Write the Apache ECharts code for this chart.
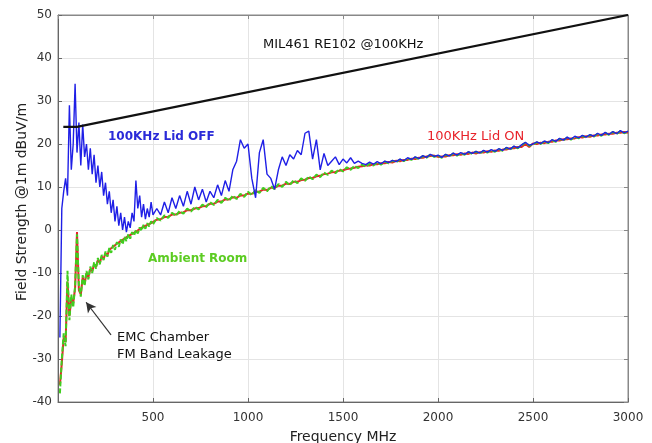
<!DOCTYPE html>
<html>
<head>
<meta charset="utf-8">
<script src="https://cdn.jsdelivr.net/npm/echarts@6/dist/echarts.min.js"></script>
<style>
html,body{margin:0;padding:0;background:#fff;}
#chart{width:652px;height:443px;}
</style>
</head>
<body>
<div id="chart"></div>
<script>
// Sample frequencies (MHz)
const freq = [
  10,20,30,40,50,60,70,80,90,100,110,120,130,140,150,160,170,180,190,200,
  210,220,230,240,250,260,270,280,290,300,310,320,330,340,350,360,370,380,390,400,
  410,420,430,440,450,460,470,480,490,500,
  520,540,560,580,600,620,640,660,680,700,720,740,760,780,800,820,840,860,880,900,
  920,940,960,980,1000,1020,1040,1060,1080,1100,1120,1140,1160,1180,1200,1220,1240,1260,1280,1300,
  1320,1340,1360,1380,1400,1420,1440,1460,1480,1500,1520,1540,1560,1580,1600,1620,1640,1660,1680,1700,
  1720,1740,1760,1780,1800,1820,1840,1860,1880,1900,1920,1940,1960,1980,2000,2020,2040,2060,2080,2100,
  2120,2140,2160,2180,2200,2220,2240,2260,2280,2300,2320,2340,2360,2380,2400,2420,2440,2460,2480,2500,
  2520,2540,2560,2580,2600,2620,2640,2660,2680,2700,2720,2740,2760,2780,2800,2820,2840,2860,2880,2900,
  2920,2940,2960,2980,3000
];

// Ambient Room (green)
const ambient = [
  -38,-30,-24,-27,-9.5,-21,-15,-18,-13,-1,-13,-15.5,-10.5,-13,-9.5,-11.5,-8.5,-10,-7.5,-9,
  -6.5,-8,-5.8,-7,-5,-6.2,-4.2,-5.3,-3.5,-4.6,-2.8,-3.9,-2.2,-3.3,-1.6,-2.6,-1,-2,-0.5,-1.3,
  0,-0.8,0.6,-0.2,1.2,0.3,1.6,0.8,2,1.3,
  2.8,2.2,3.4,2.8,4.0,3.3,4.4,3.8,5.0,4.3,5.4,4.8,5.9,5.3,6.5,5.8,7.0,6.3,7.5,6.8,
  8.0,7.2,8.4,7.7,8.9,8.1,9.3,8.6,9.8,9.0,10.2,9.5,10.7,10.0,11.2,10.4,11.6,10.9,12.0,11.4,
  12.5,11.8,12.9,12.3,13.4,12.8,13.8,13.2,14.2,13.6,14.6,14.0,14.9,14.4,15.2,14.7,15.4,15.0,15.7,15.2,
  15.9,15.5,16.1,15.8,16.4,16.0,16.7,16.3,16.9,16.5,17.2,16.8,17.6,17.0,17.3,16.8,17.5,17.1,17.8,17.3,
  17.9,17.5,18.1,17.7,18.2,17.8,18.4,18.0,18.6,18.2,18.8,18.4,19.1,18.7,19.4,19.0,19.7,20.3,19.6,19.9,
  20.4,20.0,20.6,20.2,20.9,20.5,21.2,20.8,21.5,21.0,21.7,21.3,21.9,21.5,22.1,21.7,22.4,21.9,22.6,22.1,
  22.8,22.3,23.0,22.5,22.9
];

// 100KHz Lid ON (red)
const lidOn = [
  -36,-31,-25,-26,-12,-20,-16,-17,-13.5,-0.5,-14,-15,-11,-12.5,-10,-11,-9,-9.6,-8,-8.6,
  -7,-7.6,-6.2,-6.7,-5.4,-5.9,-4.6,-5,-3.9,-4.3,-3.2,-3.6,-2.6,-3,-2,-2.3,-1.4,-1.7,-0.9,-1,
  -0.4,-0.5,0.2,0.1,0.8,0.6,1.2,1.1,1.6,1.6,
  2.4,2.5,3.0,3.1,3.6,3.6,4.0,4.1,4.6,4.6,5.0,5.1,5.5,5.6,6.1,6.1,6.6,6.6,7.1,7.1,
  7.6,7.5,8.0,8.0,8.5,8.4,8.9,8.9,9.4,9.3,9.8,9.8,10.3,10.3,10.8,10.7,11.2,11.2,11.6,11.7,
  12.1,12.1,12.5,12.6,13.0,13.1,13.4,13.5,13.8,13.9,14.2,14.3,14.5,14.7,14.8,15.0,15.0,15.3,15.3,15.5,
  15.5,15.8,15.7,16.1,16.0,16.3,16.3,16.6,16.5,16.8,16.8,17.1,17.2,17.3,17.0,17.1,17.1,17.4,17.4,17.6,
  17.5,17.8,17.7,18.0,17.8,18.1,18.0,18.3,18.2,18.5,18.4,18.7,18.7,19.0,19.0,19.3,19.3,20.0,19.3,20.1,
  20.0,20.3,20.2,20.5,20.5,20.8,20.8,21.1,21.1,21.3,21.3,21.6,21.5,21.8,21.7,22.0,22.0,22.2,22.2,22.4,
  22.4,22.6,22.6,22.8,22.6
];

// 100KHz Lid OFF (blue)
const lidOff = [
  -25,5,9,12,8,29,14,20,34,18,25,15,24.5,17,20,14,19,13,17.5,11,
  15,10,13.5,8,11,6,9,4,7,2,5.5,1,4,0,3,-0.5,2,0.5,4,2,
  11.5,5,8,3,6,2.5,5,3,6.5,3.5,
  5,3.5,6.5,4,7.5,5,8,5.5,9,6,10,7,9.5,6.5,9,7.5,10.5,8,11.5,9,
  14,16,21,19,20,12,7.5,18,21,13,12,9.5,14,17,15,17.5,16.5,18.5,17.5,22.5,
  23,16.5,21,14,17.8,15,16,17,15.2,16.5,15.6,16.8,15.5,16,15.5,15.2,15.8,15.3,15.9,15.4,
  16.0,15.7,16.2,15.9,16.5,16.1,16.8,16.4,17.0,16.6,17.3,16.9,17.6,17.1,17.4,16.9,17.6,17.2,17.9,17.4,
  18.0,17.6,18.2,17.8,18.3,17.9,18.5,18.1,18.7,18.3,18.9,18.5,19.2,18.8,19.5,19.1,19.8,20.4,19.7,20.0,
  20.5,20.1,20.7,20.3,21.0,20.6,21.3,20.9,21.6,21.1,21.8,21.4,22.0,21.6,22.2,21.8,22.5,22.0,22.7,22.2,
  22.9,22.4,23.1,22.6,23.0
];

// MIL461 RE102 limit line
const limitFreq = [28, 100, 3000];
const limitVal = [24, 24, 50];

// Axis ticks
const xTicks = [500, 1000, 1500, 2000, 2500, 3000];
const yTicks = [-40, -30, -20, -10, 0, 10, 20, 30, 40, 50];

const pairs = (xs, ys) => xs.map((x, i) => [x, ys[i]]);

const FONT = '"DejaVu Sans", Arial, sans-serif';
const chart = echarts.init(document.getElementById('chart'));

chart.setOption({
  animation: false,
  backgroundColor: '#fff',
  grid: { left: 58, right: 24, top: 15, bottom: 41, show: true, borderColor: '#888', borderWidth: 1 },
  xAxis: [{
    type: 'value', min: 0, max: 3000, interval: 500,
    axisLine: { show: true, onZero: false, lineStyle: { color: '#666' } },
    axisTick: { show: true, inside: true, length: 4, lineStyle: { color: '#666' } },
    axisLabel: { showMinLabel: false, fontFamily: FONT, fontSize: 12, color: '#333', margin: 10,
      formatter: v => xTicks.includes(v) ? String(v) : '' },
    splitLine: { show: true, lineStyle: { color: '#e4e4e4' } }
  }, {
    type: 'value', min: 0, max: 3000, interval: 500, position: 'top',
    axisLine: { show: true, onZero: false, lineStyle: { color: '#888' } },
    axisTick: { show: true, inside: true, length: 4, lineStyle: { color: '#888' } },
    axisLabel: { show: false }, splitLine: { show: false }
  }],
  yAxis: [{
    type: 'value', min: -40, max: 50, interval: 10,
    axisLine: { show: true, onZero: false, lineStyle: { color: '#666' } },
    axisTick: { show: true, inside: true, length: 4, lineStyle: { color: '#666' } },
    axisLabel: { fontFamily: FONT, fontSize: 12, color: '#333', margin: 6,
      formatter: v => yTicks.includes(v) ? String(v) : '' },
    splitLine: { show: true, lineStyle: { color: '#e4e4e4' } }
  }, {
    type: 'value', min: -40, max: 50, interval: 10, position: 'right',
    axisLine: { show: true, onZero: false, lineStyle: { color: '#888' } },
    axisTick: { show: true, inside: true, length: 4, lineStyle: { color: '#888' } },
    axisLabel: { show: false }, splitLine: { show: false }
  }],
  series: [
    {
      name: '100KHz Lid ON', type: 'line', data: pairs(freq, lidOn), showSymbol: false,
      lineStyle: { color: '#e8232a', width: 2 }, z: 2
    },
    {
      name: 'Ambient Room', type: 'line', data: pairs(freq, ambient), showSymbol: false,
      lineStyle: { color: '#3fce1f', width: 2, type: [5, 2] }, z: 3
    },
    {
      name: '100KHz Lid OFF', type: 'line', data: pairs(freq, lidOff), showSymbol: false,
      lineStyle: { color: '#1f1fe6', width: 1.4 }, z: 4
    },
    {
      name: 'MIL461 RE102 @100KHz', type: 'line', data: pairs(limitFreq, limitVal), showSymbol: false,
      lineStyle: { color: '#111', width: 2.2 }, z: 5,
      markLine: {
        silent: true, symbol: ['none', 'arrow'], symbolSize: [8, 10],
        lineStyle: { color: '#333', width: 1.2, type: 'solid' },
        label: { show: false },
        data: [[{ coord: [279, -24.4] }, { coord: [148, -16.8] }]]
      }
    }
  ],
  graphic: [
    { type: 'text', z: 100, left: 263, top: 38, style: { text: 'MIL461 RE102 @100KHz', fontFamily: FONT, fontSize: 13, fill: '#111' } },
    { type: 'text', z: 100, left: 108, top: 131, style: { text: '100KHz Lid OFF', fontFamily: FONT, fontSize: 12, fontWeight: 'bold', fill: '#2a2ad8' } },
    { type: 'text', z: 100, left: 427, top: 130, style: { text: '100KHz Lid ON', fontFamily: FONT, fontSize: 13, fill: '#e8232a' } },
    { type: 'text', z: 100, left: 148, top: 253, style: { text: 'Ambient Room', fontFamily: FONT, fontSize: 12, fontWeight: 'bold', fill: '#5ccc22' } },
    { type: 'text', z: 100, left: 117, top: 331, style: { text: 'EMC Chamber', fontFamily: FONT, fontSize: 13, fill: '#111' } },
    { type: 'text', z: 100, left: 117, top: 348, style: { text: 'FM Band Leakage', fontFamily: FONT, fontSize: 13, fill: '#111' } },
    { type: 'text', z: 100, x: 343, y: 437, style: { text: 'Frequency MHz', fontFamily: FONT, fontSize: 14, fill: '#222', align: 'center', verticalAlign: 'middle' } },
    { type: 'text', z: 100, x: 22, y: 202, rotation: Math.PI / 2, style: { text: 'Field Strength @1m dBuV/m', fontFamily: FONT, fontSize: 14, fill: '#222', align: 'center', verticalAlign: 'middle' } }
  ]
});
</script>
</body>
</html>
